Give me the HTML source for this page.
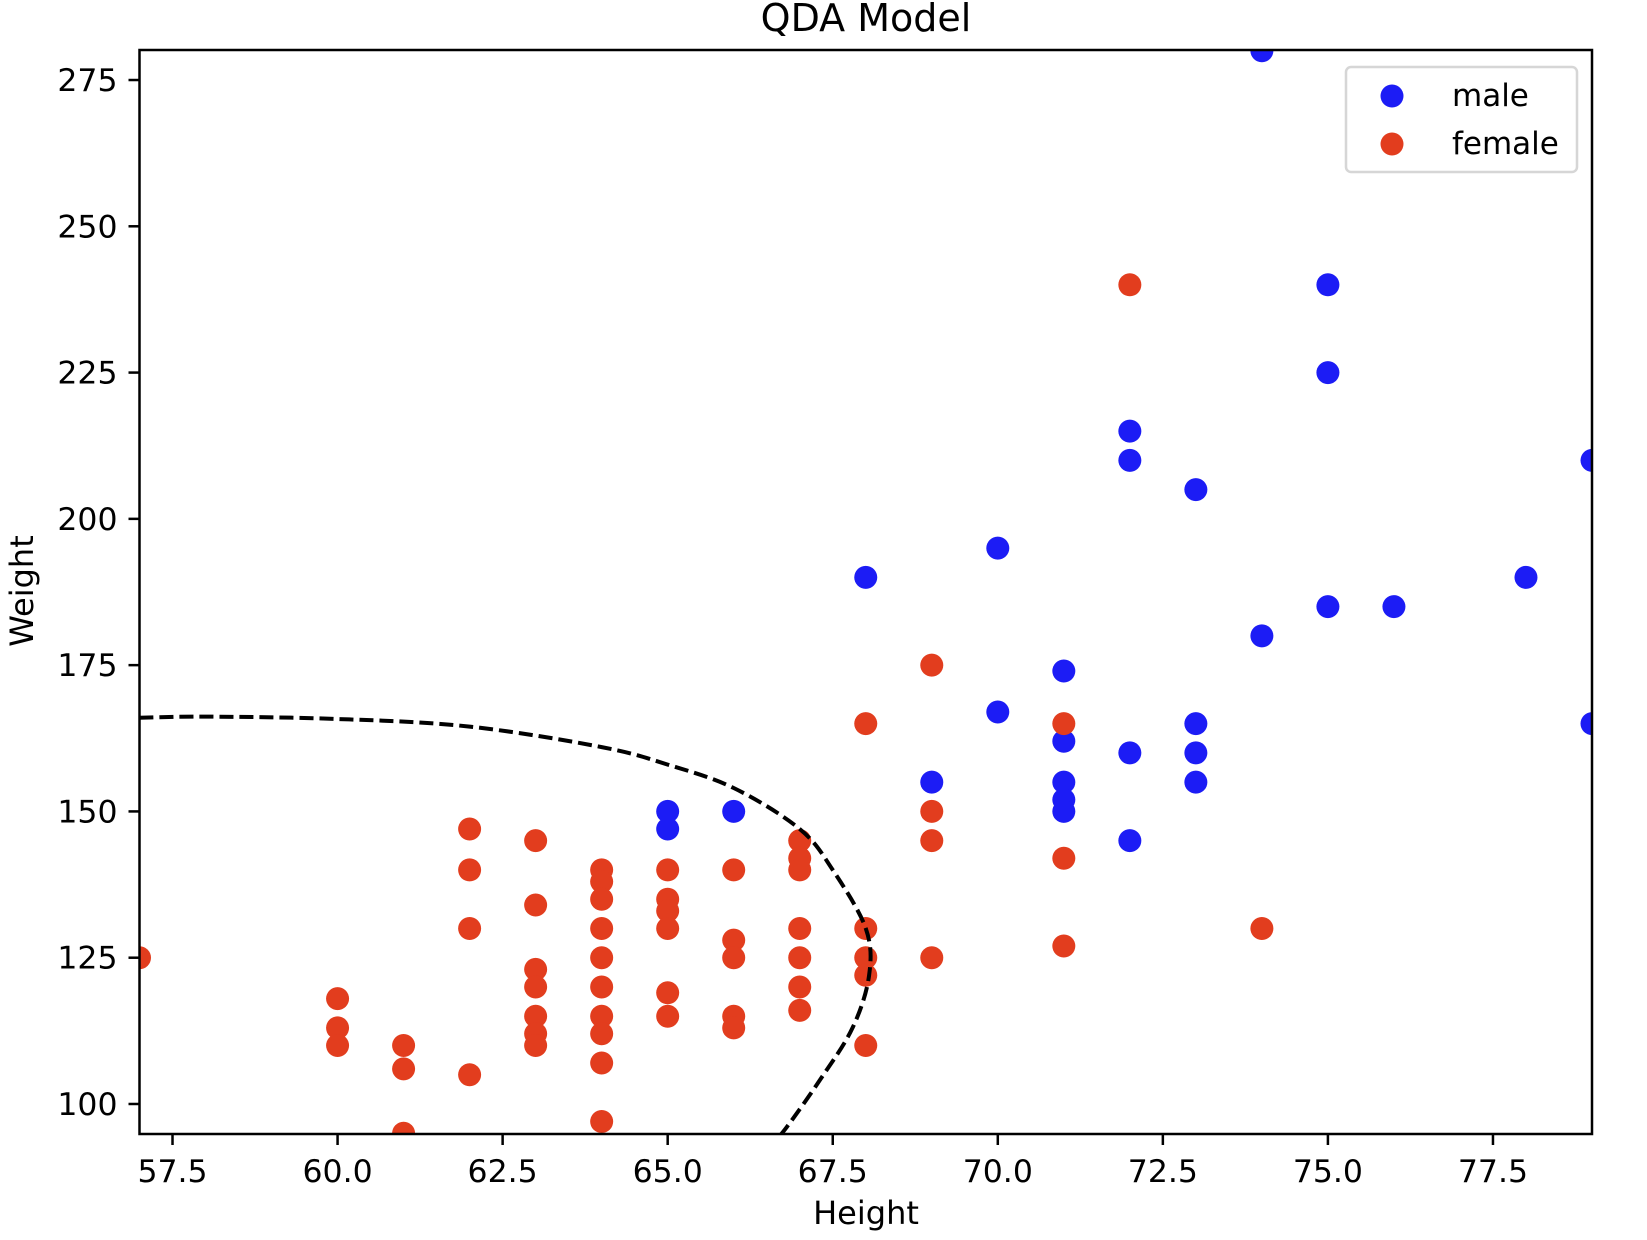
<!DOCTYPE html>
<html><head><meta charset="utf-8"><style>
body{margin:0;background:#fff;}
svg text{font-family:"DejaVu Sans","Liberation Sans",sans-serif;fill:#000;}
</style></head><body>
<svg id="chart" width="1647" height="1235" xmlns="http://www.w3.org/2000/svg">
<defs><clipPath id="plotclip"><rect x="139.5" y="50" width="1452.5" height="1084"/></clipPath></defs>
<text x="866" y="31" font-size="38" text-anchor="middle">QDA Model</text>
<g id="marks" clip-path="url(#plotclip)"></g>
<rect x="139.5" y="50" width="1452.5" height="1084" fill="none" stroke="#000" stroke-width="2.5"/>
<g id="xticks"></g><g id="yticks"></g>
<text x="866" y="1224" font-size="32" text-anchor="middle">Height</text>
<text transform="translate(33,591) rotate(-90)" font-size="32" text-anchor="middle">Weight</text>
<g>
<rect x="1346" y="67" width="231" height="105" rx="5" fill="#fff" stroke="#d6d6d6" stroke-width="2.5"/>
<circle cx="1392" cy="96" r="11.5" fill="#1c1cf5"/>
<text x="1452" y="106" font-size="31">male</text>
<circle cx="1392" cy="144" r="11.5" fill="#e23d1e"/>
<text x="1452" y="154" font-size="31">female</text>
</g>
</svg>
<script>
const maleX=[74,75,75,72,72,73,79,70,68,78,75,76,74,71,70,73,79,71,72,73,69,71,73,71,71,72,65,65,66];
const maleY=[280,240,225,215,210,205,210,195,190,190,185,185,180,174,167,165,165,162,160,160,155,155,155,152,150,145,150,147,150];
const femaleX=[72,69,68,71,69,69,71,74,71,69,57,62,62,62,62,63,63,63,63,63,63,63,64,64,64,64,64,64,64,64,64,64,65,65,65,65,65,65,66,66,66,66,66,67,67,67,67,67,67,67,68,68,68,68,60,60,60,61,61,61];
const femaleY=[240,175,165,165,150,145,142,130,127,125,125,147,140,130,105,145,134,123,120,115,112,110,140,138,135,130,125,120,115,112,107,97,140,135,133,130,119,115,140,128,125,115,113,145,142,140,130,125,120,116,130,125,122,110,118,113,110,110,106,95];
const boundaryX=[57,58,60,62,64,65,66,67,67.5,68,68.05,67.8,67.3,66.8,66.5];
const boundaryY=[166,166.2,165.8,164.5,161,158,154,147,140,130,122,113,104,96,92];
const xTickVals=[57.5,60.0,62.5,65.0,67.5,70.0,72.5,75.0,77.5];
const yTickVals=[100,125,150,175,200,225,250,275];

const NS="http://www.w3.org/2000/svg";
const X0=139.5,X1=1592,Y0=1134,Y1=50,xmin=57,xmax=79,ymin=94.87,ymax=280.13;
const sx=v=>X0+(v-xmin)/(xmax-xmin)*(X1-X0);
const sy=v=>Y0-(v-ymin)/(ymax-ymin)*(Y0-Y1);
function mk(tag,attrs,parent){const e=document.createElementNS(NS,tag);for(const k in attrs)e.setAttribute(k,attrs[k]);parent.appendChild(e);return e;}
const marks=document.getElementById('marks');
const xt=document.getElementById('xticks'),yt=document.getElementById('yticks');
xTickVals.forEach(v=>{
 const l=mk('line',{x1:sx(v),x2:sx(v),y1:Y0,y2:Y0+11,stroke:'#000','stroke-width':2.5},xt);
 
 
 const t=mk('text',{x:sx(v),y:Y0+48,'font-size':31.5,'text-anchor':'middle'},xt);
 t.textContent=v.toFixed(1);
 
 
});
yTickVals.forEach(v=>{
 const l=mk('line',{x1:X0-11,x2:X0,y1:sy(v),y2:sy(v),stroke:'#000','stroke-width':2.5},yt);
 
 
 const t=mk('text',{x:X0-22,y:sy(v)+11,'font-size':31.5,'text-anchor':'end'},yt);
 t.textContent=v;
 
 
});
maleX.forEach((v,i)=>{
 const c=mk('circle',{cx:sx(v),cy:sy(maleY[i]),r:11.5,fill:'#1c1cf5'},marks);
 
 
});
femaleX.forEach((v,i)=>{
 const c=mk('circle',{cx:sx(v),cy:sy(femaleY[i]),r:11.5,fill:'#e23d1e'},marks);
 
 
});
const P=boundaryX.map((v,i)=>[sx(v),sy(boundaryY[i])]);
let d='M'+P[0][0].toFixed(1)+','+P[0][1].toFixed(1);
for(let i=0;i<P.length-1;i++){
 const p0=P[Math.max(0,i-1)],p1=P[i],p2=P[i+1],p3=P[Math.min(P.length-1,i+2)];
 const c1=[p1[0]+(p2[0]-p0[0])/6,p1[1]+(p2[1]-p0[1])/6];
 const c2=[p2[0]-(p3[0]-p1[0])/6,p2[1]-(p3[1]-p1[1])/6];
 d+=' C'+c1.map(n=>n.toFixed(1)).join(',')+' '+c2.map(n=>n.toFixed(1)).join(',')+' '+p2.map(n=>n.toFixed(1)).join(',');
}
const p=mk('path',{d:d,fill:'none',stroke:'#000','stroke-width':4,'stroke-dasharray':'14,6','stroke-linejoin':'round'},marks);


</script>
</body></html>
